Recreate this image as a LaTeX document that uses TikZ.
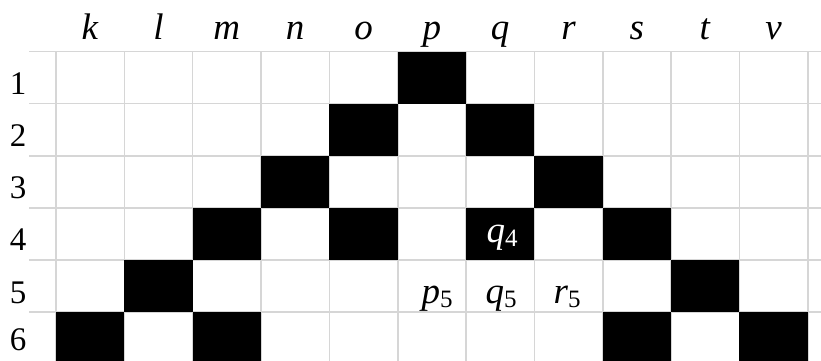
\documentclass[tikz,border=0pt]{standalone}
\usepackage{fontspec}
\setmainfont{Liberation Serif}
\newcommand{\letf}{\fontsize{37}{40}\selectfont}
\newcommand{\digf}{\fontsize{33}{36}\selectfont}
\newcommand{\subd}[1]{\raisebox{-4pt}{\fontsize{25}{27}\selectfont #1}}
\begin{document}
\begin{tikzpicture}[x=1pt,y=-1pt,
  gridline/.style={draw=gray!32,line width=1.6pt},
  lab/.style={anchor=base,inner sep=0pt,font=\letf},
  numlab/.style={anchor=base,inner sep=0pt,font=\digf},
  blackcell/.style={fill=black}]
\useasboundingbox (0,0) rectangle (821,360);
\clip (0,0) rectangle (821,360);
\foreach \i in {0,...,6} \draw[gridline] (29,51.5+\i*52.1) -- (821,51.5+\i*52.1);
\foreach \j in {0,...,11} \draw[gridline] (56+\j*68.34,51.5) -- (56+\j*68.34,365);
\foreach \c/\r in {5/1,4/2,6/2,3/3,7/3,2/4,4/4,6/4,8/4,1/5,9/5,0/6,2/6,8/6,10/6}
  \fill[blackcell] (56+\c*68.34,51.5+\r*52.1-52.1) rectangle ++(68.34,52.1);
\foreach \l [count=\n from 0] in {k,l,m,n,o,p,q,r,s,t,v}
  \node[lab] (c\l) at (90.17+\n*68.34,39.5) {\textit{\l}};
\foreach \r in {1,...,5}
  \node[numlab] (r\r) at (18,51.5+\r*52.1-9) {\r};
\node[numlab] (r6) at (18,350.5) {6};
\node[lab,text=white] (q4) at (502,242) {\textit{q}\subd{4}};
\node[lab] (p5) at (437,303) {\textit{p}\subd{5}};
\node[lab] (q5) at (501,303) {\textit{q}\subd{5}};
\node[lab] (r5) at (567,303) {\textit{r}\subd{5}};
\end{tikzpicture}
\end{document}
